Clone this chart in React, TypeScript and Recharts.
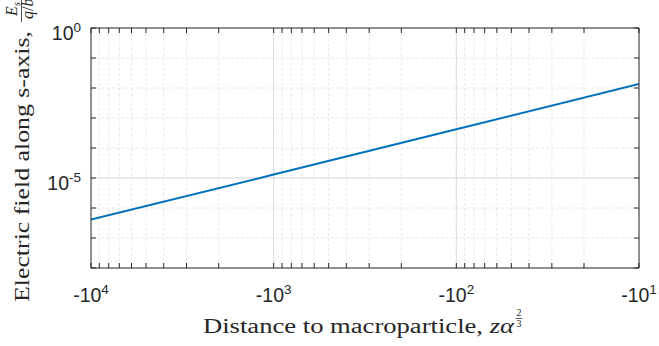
import React from 'react';
import { LineChart, Line, XAxis, YAxis, CartesianGrid, ReferenceLine } from 'recharts';

// Data
const distances = [-10000, -1000, -100, -10];
const fieldValues = [4.1e-7, 1.3e-5, 4.2e-4, 1.35e-2];

// Tick definitions
const xMajorTicks = [-10000, -1000, -100, -10];
const xMinorMultipliers = [2, 3, 4, 5, 6, 7, 8, 9];
const xMinorDecades = [10, 100, 1000];
const yDecadeTicks = [1e-8, 1e-7, 1e-6, 1e-5, 1e-4, 1e-3, 1e-2, 1e-1, 1];
const yLabeledTicks = [1, 1e-5];

const W = 659;
const H = 346;
const PLOT_LEFT = 91;
const PLOT_RIGHT = 639;
const PLOT_TOP = 28;
const PLOT_BOTTOM = 268;
const TICK_LEN = 5;
const AXIS_COLOR = '#262626';
const TICK_FONT = '"Liberation Sans", Arial, sans-serif';
const LABEL_FONT = '"Liberation Serif", "Times New Roman", serif';

const data = distances.map((z, i) => ({ z, E: fieldValues[i] }));

const xTicks: number[] = [];
xMinorDecades.forEach((d) => xMinorMultipliers.forEach((k) => xTicks.push(-k * d)));
xMajorTicks.forEach((t) => xTicks.push(t));
xTicks.sort((a, b) => a - b);

const XTick = (props: any) => {
  const { x, payload } = props;
  const v = payload.value as number;
  const major = xMajorTicks.includes(v);
  const exp = Math.round(Math.log10(Math.abs(v)));
  return (
    <g>
      <line x1={x} x2={x} y1={PLOT_BOTTOM} y2={PLOT_BOTTOM - TICK_LEN} stroke={AXIS_COLOR} strokeWidth={1} />
      <line x1={x} x2={x} y1={PLOT_TOP} y2={PLOT_TOP + TICK_LEN} stroke={AXIS_COLOR} strokeWidth={1} />
      {major && (
        <text x={x} y={302} textAnchor="middle" fontFamily={TICK_FONT} fontSize={19.5} fill={AXIS_COLOR}>
          -10
          <tspan dy={-8.5} fontSize={13.5}>
            {exp}
          </tspan>
        </text>
      )}
    </g>
  );
};

const YTick = (props: any) => {
  const { y, payload } = props;
  const v = payload.value as number;
  const labeled = yLabeledTicks.some((t) => Math.abs(Math.log10(t) - Math.log10(v)) < 1e-6);
  const exp = Math.round(Math.log10(v));
  return (
    <g>
      <line x1={PLOT_LEFT} x2={PLOT_LEFT + TICK_LEN} y1={y} y2={y} stroke={AXIS_COLOR} strokeWidth={1} />
      <line x1={PLOT_RIGHT} x2={PLOT_RIGHT - TICK_LEN} y1={y} y2={y} stroke={AXIS_COLOR} strokeWidth={1} />
      {labeled && (
        <text x={81} y={y + 12} textAnchor="end" fontFamily={TICK_FONT} fontSize={19.5} fill={AXIS_COLOR}>
          10
          <tspan dy={-8.5} fontSize={13.5}>
            {exp}
          </tspan>
        </text>
      )}
    </g>
  );
};

const Labels = () => (
  <svg width={W} height={H} style={{ position: 'absolute', left: 0, top: 0, pointerEvents: 'none' }}>
    {/* x label */}
    <text x={203} y={333} fontFamily={LABEL_FONT} fontSize={20} fill={AXIS_COLOR} textLength={311} lengthAdjust="spacingAndGlyphs">
      Distance to macroparticle, <tspan fontStyle="italic">z</tspan>
      <tspan fontStyle="italic">α</tspan>
    </text>
    <text x={519} y={316} textAnchor="middle" fontFamily={LABEL_FONT} fontSize={10} fill={AXIS_COLOR}>2</text>
    <line x1={515.5} x2={522.5} y1={318.5} y2={318.5} stroke={AXIS_COLOR} strokeWidth={0.7} />
    <text x={519} y={327} textAnchor="middle" fontFamily={LABEL_FONT} fontSize={10} fill={AXIS_COLOR}>3</text>
    {/* y label */}
    <g transform="translate(29,302) rotate(-90)">
      <text x={0} y={0} fontFamily={LABEL_FONT} fontSize={20} fill={AXIS_COLOR} textLength={271} lengthAdjust="spacingAndGlyphs">
        Electric field along s-axis,
      </text>
      <text x={293} y={-12} textAnchor="middle" fontFamily={LABEL_FONT} fontSize={16} fill={AXIS_COLOR}>
        <tspan fontStyle="italic">E</tspan>
        <tspan fontStyle="italic" fontSize={11} dy={3}>s</tspan>
      </text>
      <line x1={280} x2={310} y1={-7.5} y2={-7.5} stroke={AXIS_COLOR} strokeWidth={0.8} />
      <text x={296} y={4} textAnchor="middle" fontFamily={LABEL_FONT} fontSize={16} fill={AXIS_COLOR}>
        <tspan fontStyle="italic">q</tspan>/<tspan fontStyle="italic">b</tspan>
        <tspan fontSize={11} dy={-6}>2</tspan>
      </text>
    </g>
  </svg>
);

export default function App() {
  return (
    <div style={{ position: 'absolute', left: 0, top: 0, width: W, height: H, background: '#ffffff' }}>
      <LineChart
        width={W}
        height={H}
        data={data}
        margin={{ top: PLOT_TOP, right: W - PLOT_RIGHT, left: 0, bottom: 0 }}
      >
        <CartesianGrid stroke="#e8e8e8" strokeDasharray="3 2" />
        <XAxis
          dataKey="z"
          type="number"
          scale="log"
          domain={[-10000, -10]}
          ticks={xTicks}
          interval={0}
          tick={<XTick />}
          tickLine={false}
          axisLine={false}
          height={H - PLOT_BOTTOM}
          allowDataOverflow
        />
        <YAxis
          type="number"
          scale="log"
          domain={[1e-8, 1]}
          ticks={yDecadeTicks}
          interval={0}
          tick={<YTick />}
          tickLine={false}
          axisLine={false}
          width={PLOT_LEFT}
          allowDataOverflow
        />
        <ReferenceLine x={-1000} stroke="#dcdcdc" strokeWidth={1} />
        <ReferenceLine x={-100} stroke="#dcdcdc" strokeWidth={1} />
        <ReferenceLine y={1e-5} stroke="#dcdcdc" strokeWidth={1} />
        <Line
          dataKey="E"
          type="linear"
          stroke="#0072BD"
          strokeWidth={2}
          dot={false}
          isAnimationActive={false}
        />
        <ReferenceLine x={-10000} stroke={AXIS_COLOR} strokeWidth={1} />
        <ReferenceLine x={-10} stroke={AXIS_COLOR} strokeWidth={1} />
        <ReferenceLine y={1e-8} stroke={AXIS_COLOR} strokeWidth={1} />
        <ReferenceLine y={1} stroke={AXIS_COLOR} strokeWidth={1} />
      </LineChart>
      <Labels />
    </div>
  );
}
